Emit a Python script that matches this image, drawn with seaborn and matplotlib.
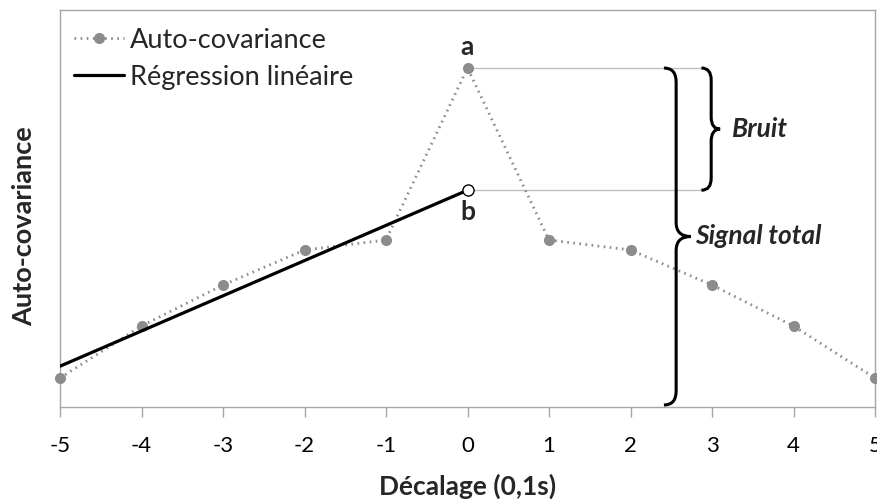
import numpy as np
import pandas as pd
import matplotlib
matplotlib.use("Agg")
import matplotlib.pyplot as plt
from matplotlib.path import Path
from matplotlib.patches import PathPatch
import seaborn as sns

# Auto-covariance as a function of lag (units of 0.1 s)
lags = [-5, -4, -3, -2, -1, 0, 1, 2, 3, 4, 5]
autocov = [29, 81, 122, 157, 167, 339, 167, 157, 122, 81, 29]

# Lags used for the linear regression, extrapolated up to lag 0
fit_lags = [-5, -4, -3, -2, -1]
tick_labels = ["-5", "-4", "-3", "-2", "-1", "0", "1", "2", "3", "4", "5"]

sns.set_theme(style="white")
plt.rcParams["font.family"] = ["Lato", "DejaVu Sans"]

df = pd.DataFrame({"lag": lags, "acov": autocov})
fit_vals = [autocov[lags.index(l)] for l in fit_lags]
slope, intercept = np.polyfit(fit_lags, fit_vals, 1)
reg_x = [-5, 0]
reg_df = pd.DataFrame({"lag": reg_x, "acov": [slope * x + intercept for x in reg_x]})

fig = plt.figure(figsize=(8.77, 4.99), dpi=100)
ax = fig.add_axes([60 / 877, 92 / 499, 815 / 877, 397 / 499])

peak = autocov[lags.index(0)]
b_val = intercept

# Guide lines from a and b to the braces
ax.plot([0, 2.87], [peak, peak], color="#bfbfbf", lw=1, zorder=1)
ax.plot([0, 2.87], [b_val, b_val], color="#bfbfbf", lw=1, zorder=1)

sns.lineplot(data=df, x="lag", y="acov", ax=ax, color="#8c8c8c", lw=2,
             linestyle=(0, (0.6, 1.6)), marker="o", markersize=8,
             markeredgewidth=0, label="Auto-covariance", clip_on=False, zorder=3)
sns.lineplot(data=reg_df, x="lag", y="acov", ax=ax, color="black", lw=2.3,
             label="Régression linéaire", zorder=4)
ax.plot([0], [b_val], marker="o", markersize=8, markerfacecolor="white",
        markeredgecolor="black", markeredgewidth=1, zorder=5)


def brace(x0, xs, xt, ytop, ybot, r):
    ymid = (ytop + ybot) / 2
    verts = [(x0, ytop), (xs, ytop), (xs, ytop - r),
             (xs, ymid + r),
             (xs, ymid), (xt, ymid),
             (xs, ymid), (xs, ymid - r),
             (xs, ybot + r),
             (xs, ybot), (x0, ybot)]
    codes = [Path.MOVETO, Path.CURVE3, Path.CURVE3,
             Path.LINETO,
             Path.CURVE3, Path.CURVE3,
             Path.CURVE3, Path.CURVE3,
             Path.LINETO,
             Path.CURVE3, Path.CURVE3]
    ax.add_patch(PathPatch(Path(verts, codes), facecolor="none",
                           edgecolor="black", lw=2.2, clip_on=False, zorder=4))
    return ymid


mid_big = brace(2.41, 2.56, 2.74, peak, 2, 14)
mid_small = brace(2.87, 2.99, 3.10, peak, b_val, 12)

ax.text(3.25, mid_small, "Bruit", fontsize=19, fontweight="bold",
        fontstyle="italic", va="center", ha="left")
ax.text(2.79, mid_big, "Signal total", fontsize=19, fontweight="bold",
        fontstyle="italic", va="center", ha="left")
ax.text(0, peak + 9, "a", fontsize=19, fontweight="bold", ha="center", va="bottom")
ax.text(0, b_val - 10, "b", fontsize=19, fontweight="bold", ha="center", va="top")

ax.set_xlim(-5, 5)
ax.set_ylim(0, 397)
ax.set_xticks(lags)
ax.set_xticklabels(tick_labels, fontsize=16)
ax.set_yticks([])
ax.tick_params(axis="x", direction="out", length=7, width=1, color="#a6a6a6",
               pad=14, bottom=True, labelcolor="black")
for side in ["left", "right", "top", "bottom"]:
    ax.spines[side].set_color("#a6a6a6")
    ax.spines[side].set_linewidth(1)

ax.set_xlabel("Décalage (0,1s)", fontsize=19, fontweight="bold")
ax.xaxis.set_label_coords(0.5, -0.2)
ax.xaxis.label.set_va("center")
ax.set_ylabel("Auto-covariance", fontsize=19.5, fontweight="bold")
ax.yaxis.set_label_coords(-0.044, 0.456)
ax.yaxis.label.set_va("center")

leg = ax.legend(loc="upper left", frameon=False, fontsize=19.5, handlelength=1.85,
                handletextpad=0.25, labelspacing=0.45, borderaxespad=0.1,
                bbox_to_anchor=(0.0, 0.99))

fig.savefig("out.png", dpi=100)
